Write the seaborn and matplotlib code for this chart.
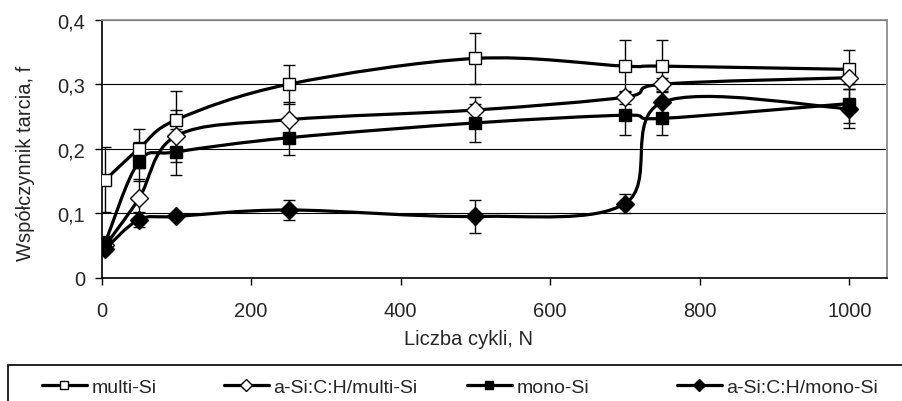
import numpy as np
import matplotlib
matplotlib.use('Agg')
import matplotlib.pyplot as plt
import seaborn as sns
from matplotlib.path import Path
from matplotlib.patches import PathPatch, Rectangle
from matplotlib.lines import Line2D

# data
cycles = [5, 50, 100, 250, 500, 700, 750, 1000]

multi_si = [0.152, 0.200, 0.245, 0.300, 0.340, 0.328, 0.328, 0.323]
multi_si_err = [0.05, 0.03, 0.045, 0.03, 0.04, 0.04, 0.04, 0.03]

asich_multi = [0.050, 0.123, 0.220, 0.245, 0.260, 0.280, 0.300, 0.310]
asich_multi_err = [0.0, 0.03, 0.04, 0.027, 0.02, 0.01, 0.01, 0.01]

mono_si = [0.055, 0.180, 0.195, 0.217, 0.240, 0.252, 0.247, 0.270]
mono_si_err = [0.0, 0.03, 0.035, 0.027, 0.03, 0.03, 0.025, 0.03]

asich_mono = [0.045, 0.090, 0.095, 0.105, 0.095, 0.115, 0.272, 0.262]
asich_mono_err = [0.0, 0.012, 0.0, 0.015, 0.025, 0.015, 0.02, 0.03]

labels = ['multi-Si', 'a-Si:C:H/multi-Si', 'mono-Si', 'a-Si:C:H/mono-Si']
markers = ['s', 'D', 's', 'D']
facecolors = ['white', 'white', 'black', 'black']

yticks = [0, 0.1, 0.2, 0.3, 0.4]
yticklabels = ['0', '0,1', '0,2', '0,3', '0,4']
xticks = [0, 200, 400, 600, 800, 1000]

series = [(multi_si, multi_si_err), (asich_multi, asich_multi_err),
          (mono_si, mono_si_err), (asich_mono, asich_mono_err)]


def smooth_path(x, y):
    # excel-like smoothed line: cubic bezier, control points from neighbours
    pts = np.column_stack([x, y]).astype(float)
    n = len(pts)
    verts = [pts[0]]
    codes = [Path.MOVETO]
    for i in range(n - 1):
        p_prev = pts[i - 1] if i > 0 else pts[i]
        p_next2 = pts[i + 2] if i + 2 < n else pts[i + 1]
        c1 = pts[i] + (pts[i + 1] - p_prev) / 6.0
        c2 = pts[i + 1] - (p_next2 - pts[i]) / 6.0
        verts += [c1, c2, pts[i + 1]]
        codes += [Path.CURVE4] * 3
    return Path(verts, codes)


sns.set_style('white')
plt.rcParams['font.family'] = ['Liberation Sans', 'DejaVu Sans']

fig = plt.figure(figsize=(9.02, 4.02), dpi=100)
ax = fig.add_axes([0.1127, 0.3067, 0.8703, 0.6418])

for (vals, err), lab, m, fc in zip(series, labels, markers, facecolors):
    ax.add_patch(PathPatch(smooth_path(cycles, vals), facecolor='none',
                           edgecolor='black', lw=2.3, zorder=3,
                           capstyle='round', joinstyle='round'))
    ax.errorbar(cycles, vals, yerr=err, fmt='none', ecolor='black',
                elinewidth=1.0, capsize=4.3, capthick=1.0, zorder=4)
    ms = 8 if m == 's' else 8.8
    ax.plot(cycles, vals, linestyle='none', marker=m, markersize=ms,
            markerfacecolor=fc, markeredgecolor='black',
            markeredgewidth=1.0, zorder=5)

ax.set_xlim(0, 1050)
ax.set_ylim(0, 0.4)
ax.set_xticks(xticks)
ax.set_yticks(yticks)
ax.set_yticklabels(yticklabels)
ax.yaxis.grid(True, color='black', lw=0.8)
ax.xaxis.grid(False)
ax.set_axisbelow(True)

ax.tick_params(axis='both', which='major', labelsize=14.5, direction='out',
               length=5, width=1, color='black', left=True, bottom=True)
ax.tick_params(axis='y', pad=7)
ax.tick_params(axis='x', pad=12)

for side in ['top', 'right']:
    ax.spines[side].set_color('#8c8c8c')
    ax.spines[side].set_linewidth(1.3)
for side in ['left', 'bottom']:
    ax.spines[side].set_color('black')
    ax.spines[side].set_linewidth(1.2)

ax.set_xlabel('Liczba cykli, N', fontsize=14.5)
ax.set_ylabel('Współczynnik tarcia, f', fontsize=14.5)
ax.xaxis.set_label_coords(0.467, -0.2)
ax.yaxis.set_label_coords(-0.085, 0.446)

# legend box below, running off the right and bottom edges
fig.patches.append(Rectangle((8 / 902, -0.1), 1.0, 0.1 + 36 / 402,
                             transform=fig.transFigure, fill=False,
                             edgecolor='black', lw=1.2))
legend_x = [42, 224, 467, 677]
for lab, m, fc, lx in zip(labels, markers, facecolors, legend_x):
    h = Line2D([0], [0], color='black', lw=2.3, marker=m,
               markersize=6 if m == 's' else 6.5,
               markerfacecolor=fc, markeredgecolor='black',
               markeredgewidth=1.0)
    leg = fig.legend([h], [lab], loc='center left', frameon=False,
                     bbox_to_anchor=(lx / 902, 1 - 388 / 402), fontsize=14,
                     handlelength=2.3, handletextpad=0.25,
                     borderaxespad=0, borderpad=0)

fig.savefig('out.png', dpi=100)
